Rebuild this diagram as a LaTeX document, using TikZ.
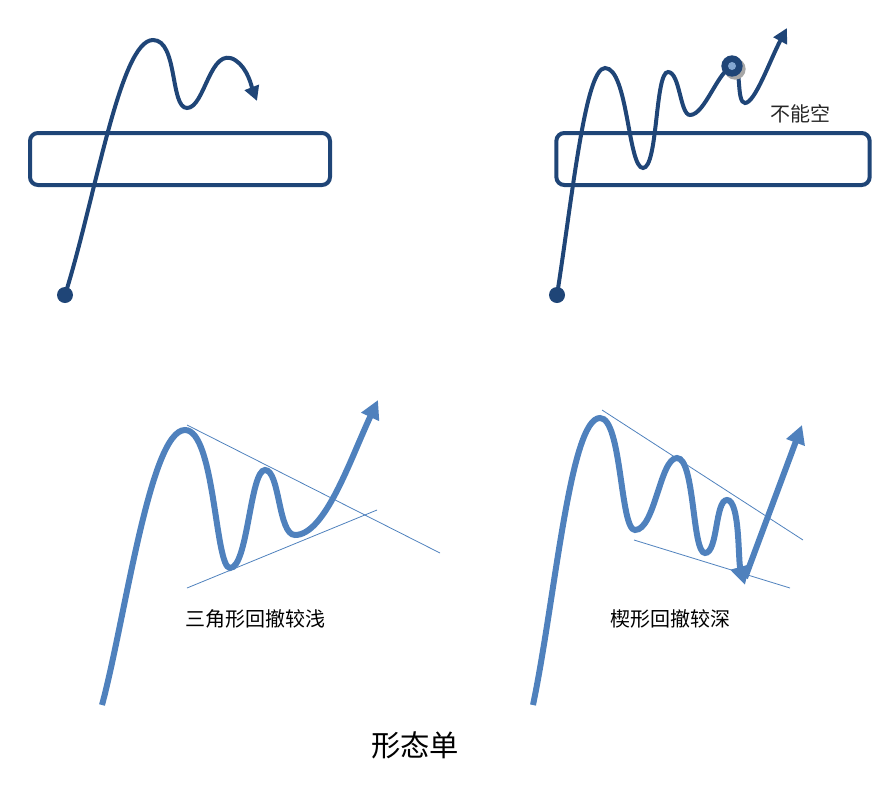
\documentclass[tikz,border=0pt]{standalone}
\usepackage{fontspec}
\newfontfamily\cjk{Noto Sans CJK SC}
\usetikzlibrary{arrows.meta}
\definecolor{dk}{HTML}{1F4577}
\definecolor{lt}{HTML}{4F81BD}
\tikzset{
 box/.style={draw=dk,line width=3pt,rounded corners=6pt},
 dkcurve/.style={draw=dk,line width=3pt,-{Triangle[length=11pt,width=11pt]}},
 ltcurve/.style={draw=lt,line width=4.5pt,-{Triangle[length=14pt,width=14pt]}},
 guide/.style={draw=lt,line width=0.6pt},
 lbl/.style={font=\cjk\fontsize{15}{18}\selectfont}
}
\begin{document}
\begin{tikzpicture}[x=0.75pt,y=-0.75pt]
\useasboundingbox (0,0) rectangle (889,786);
% top left
\node[box,minimum width=225pt,minimum height=39pt] (b1) at (180,159) {};
\fill[dk] (65,295) circle (6pt) coordinate (s1);
\draw[dkcurve] (s1) .. controls (95,200) and (120,40) .. (153,40)
  .. controls (178,40) and (170,108) .. (187,108)
  .. controls (205,108) and (210,45) .. (235,60)
  .. controls (248,68) and (252,88) .. (257,101);
% top right
\node[box,minimum width=235pt,minimum height=39pt] (b2) at (713,159) {};
\fill[dk] (557,295) circle (6pt) coordinate (s2);
\draw[dkcurve] (s2) .. controls (572,200) and (585,68) .. (605,68)
  .. controls (628,68) and (628,168) .. (643,168)
  .. controls (658,168) and (655,72) .. (668,72)
  .. controls (680,72) and (680,115) .. (690,115)
  .. controls (705,115) and (718,70) .. (733,66)
  .. controls (742,64) and (736,103) .. (745,103)
  .. controls (755,103) and (770,60) .. (787,28);
\fill[gray!70] (735,69) circle (8pt);
\fill[dk] (732,66) circle (8pt);
\fill[lt!70] (732,66) circle (3pt);
\node[lbl,text=black!85] (t1) at (800,114) {不能空};
% bottom left
\draw[guide] (187,425) -- (440,553);
\draw[guide] (187,588) -- (377,510);
\draw[ltcurve] (102,705) .. controls (125,620) and (150,430) .. (185,430)
  .. controls (215,430) and (215,568) .. (230,568)
  .. controls (248,568) and (250,470) .. (265,470)
  .. controls (280,470) and (278,535) .. (295,535)
  .. controls (325,535) and (350,460) .. (378,400);
\node[lbl] (t2) at (255,619) {三角形回撤较浅};
% bottom right
\draw[guide] (602,410) -- (803,540);
\draw[guide] (634,540) -- (790,588);
\draw[ltcurve] (533,705) .. controls (555,600) and (570,418) .. (600,418)
  .. controls (622,418) and (620,530) .. (635,530)
  .. controls (655,530) and (660,458) .. (677,458)
  .. controls (695,458) and (692,553) .. (705,553)
  .. controls (718,553) and (715,500) .. (727,500)
  .. controls (740,500) and (738,560) .. (745,585);
\coordinate (w) at (745,578);
\draw[ltcurve] (w) -- (802,425);
\node[lbl] (t3) at (670,619) {楔形回撤较深};
\node[font=\cjk\fontsize{22}{26}\selectfont] (title) at (415,745) {形态单};
\end{tikzpicture}
\end{document}
